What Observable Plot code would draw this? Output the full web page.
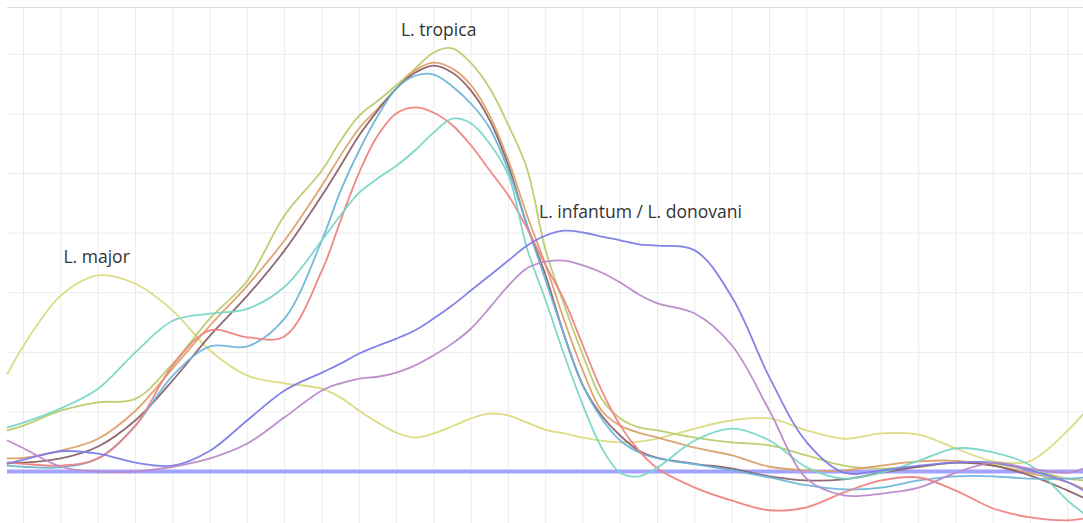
<!DOCTYPE html>
<html>
<head>
<meta charset="utf-8">
<script src="https://cdn.jsdelivr.net/npm/d3@7"></script>
<script src="https://cdn.jsdelivr.net/npm/@observablehq/plot@0.6"></script>
<style>
  html, body { margin: 0; padding: 0; background: #fff; }
  #chart svg { display: block; }
</style>
</head>
<body>
<div id="chart"></div>
<script>
// x positions (grid units) shared by all series
const X = [-0.43, 0, 1, 2, 3, 4, 5, 6, 7, 8, 8.5, 9, 9.5, 10, 10.5, 11, 11.5, 12, 12.5, 13, 13.5, 14, 14.5, 15, 15.5, 16, 16.5, 17, 18, 19, 20, 21, 22, 23, 24, 25, 26, 27, 28, 28.42];

const seriesNames = ["major", "tropicaA", "tropicaB", "tropicaC", "tropicaD", "tropicaE", "tropicaF", "infantum", "donovani"];
const seriesColors = ["#d9da7c", "#bccb6c", "#dba06a", "#8a6266", "#6db4da", "#f08282", "#78d6c6", "#7c7ce8", "#b98ac8"];

const major    = [16.4, 21.1, 29.5, 32.9, 31.5, 27.0, 20.3, 16.1, 14.8, 13.9, 12.4, 10.2, 8.2, 6.5, 5.7, 6.4, 7.6, 8.9, 9.7, 9.4, 8.2, 7.0, 6.4, 5.7, 5.2, 4.9, 5.0, 5.5, 7.2, 8.6, 8.9, 6.9, 5.5, 6.4, 6.2, 3.9, 1.7, 1.8, 6.9, 9.7];
const tropicaA = [6.9, 7.7, 10.2, 11.6, 12.2, 18.1, 25.7, 32.0, 43.0, 50.5, 55.5, 59.7, 62.2, 64.8, 67.6, 70.3, 71.0, 68.5, 64.3, 58.1, 50.8, 37.1, 27.9, 19.5, 12.2, 8.9, 7.4, 6.9, 5.7, 4.9, 4.4, 2.7, 1.0, 0.5, 0.8, 1.5, 1.3, 0.2, -1.2, -1.5];
const tropicaB = [2.2, 2.3, 3.5, 5.5, 10.2, 17.3, 24.5, 31.2, 38.8, 48.0, 53.0, 57.6, 60.9, 64.3, 67.3, 68.6, 67.6, 64.8, 59.7, 52.2, 43.0, 34.6, 25.3, 16.9, 10.2, 7.7, 6.5, 5.7, 4.0, 2.7, 0.8, 0.2, 0.2, 1.0, 1.7, 1.8, 1.0, -0.3, -1.8, -2.9];
const tropicaC = [1.5, 1.5, 2.2, 4.2, 8.6, 15.3, 22.8, 29.5, 37.1, 46.3, 51.3, 56.4, 60.6, 64.3, 66.9, 68.1, 66.9, 63.9, 58.9, 51.3, 41.3, 32.9, 22.8, 14.4, 9.4, 6.0, 3.5, 2.3, 1.3, 0.5, -0.8, -1.5, -1.3, -0.2, 0.8, 1.5, 1.0, -0.7, -3.2, -4.4];
const tropicaD = [1.0, 0.8, 0.7, 2.2, 7.7, 16.1, 21.0, 21.0, 25.7, 38.8, 47.1, 53.9, 59.7, 64.3, 66.4, 66.6, 64.6, 61.7, 57.6, 50.5, 41.3, 32.0, 22.8, 14.4, 8.9, 5.2, 3.2, 2.2, 1.2, 0.2, -1.0, -2.3, -3.0, -2.7, -1.5, -0.8, -0.8, -1.2, -1.2, -1.0];
const tropicaE = [1.5, 1.3, 1.0, 2.2, 7.7, 17.8, 23.7, 22.5, 22.7, 33.7, 42.1, 50.2, 56.4, 60.1, 61.1, 60.2, 58.1, 54.7, 50.5, 46.3, 40.8, 34.6, 28.7, 21.1, 13.6, 7.7, 3.5, 0.5, -2.7, -4.9, -6.5, -6.0, -3.5, -1.5, -1.0, -3.2, -6.2, -7.7, -8.2, -7.9];
const tropicaF = [7.4, 8.2, 10.6, 13.9, 20.0, 25.3, 26.5, 27.3, 31.0, 38.8, 43.0, 46.8, 49.2, 51.3, 53.9, 56.9, 59.2, 58.4, 55.0, 49.7, 37.4, 28.7, 19.5, 11.1, 4.0, -0.2, -0.8, 0.7, 5.2, 7.2, 5.2, 0.7, -1.2, -0.2, 1.8, 3.9, 3.2, 1.0, -4.9, -7.0];
const infantum = [1.3, 2.0, 3.4, 3.0, 1.5, 1.0, 3.5, 8.6, 13.6, 16.6, 18.1, 19.8, 21.1, 22.3, 23.7, 25.7, 27.9, 30.4, 32.9, 35.4, 37.9, 39.6, 40.4, 40.1, 39.4, 38.8, 38.1, 37.9, 37.1, 29.2, 15.8, 4.9, -0.2, 0.2, 1.0, 1.5, 1.5, 0.2, -1.8, -3.2];
const donovani = [5.2, 3.9, 0.8, 0, 0, 0.8, 2.2, 4.7, 9.1, 13.6, 14.8, 15.6, 15.9, 16.6, 17.8, 19.5, 21.5, 24.0, 27.5, 31.2, 34.1, 35.2, 35.4, 34.6, 33.4, 31.7, 29.7, 28.2, 26.5, 21.1, 10.2, -1.2, -4.0, -3.7, -2.7, -0.2, 1.5, 0.5, -0.2, 0.5];

const baselineValue = 0;
const gridX = d3.range(0, 29);
const gridY = d3.range(0, 80, 10);

const labelTexts = ["L. major", "L. tropica", "L. infantum / L. donovani"];
const labelX = [1.96, 11.13, 16.54];
const labelY = [35.9, 74.0, 43.5];

const seriesValues = [major, tropicaA, tropicaB, tropicaC, tropicaD, tropicaE, tropicaF, infantum, donovani];
const rows = seriesNames.flatMap((name, i) => X.map((x, j) => ({series: name, x, y: seriesValues[i][j]})));
const labels = labelTexts.map((t, i) => ({text: t, x: labelX[i], y: labelY[i]}));

const xDomain = [-0.43, 28.42];
const yDomain = [-8.72, 77.85];

const chart = Plot.plot({
  width: 1083,
  height: 523,
  marginTop: 7,
  marginLeft: 7,
  marginRight: 0,
  marginBottom: 0,
  x: {domain: xDomain, axis: null},
  y: {domain: yDomain, axis: null},
  color: {domain: seriesNames, range: seriesColors},
  style: {background: "#fff"},
  marks: [
    Plot.ruleX(gridX, {stroke: "#ebebeb", strokeWidth: 1}),
    Plot.ruleY(gridY, {stroke: "#ebebeb", strokeWidth: 1}),
    Plot.ruleY([yDomain[1]], {stroke: "#dadada", strokeWidth: 1}),
    Plot.ruleY([baselineValue], {stroke: "#a3a3ff", strokeWidth: 4}),
    Plot.line(rows, {x: "x", y: "y", z: "series", stroke: "series", curve: "catmull-rom", strokeWidth: 1.8, strokeOpacity: 0.95}),
    Plot.text(labels, {x: "x", y: "y", text: "text", fill: "#333", fontSize: 17.5, fontFamily: "Open Sans", textAnchor: "middle"})
  ]
});
document.getElementById("chart").appendChild(chart);
</script>
</body>
</html>
